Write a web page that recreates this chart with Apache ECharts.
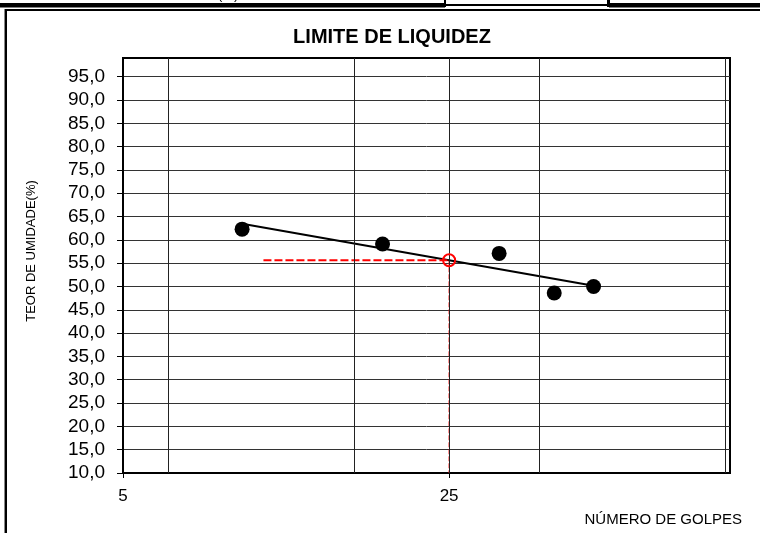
<!DOCTYPE html>
<html>
<head>
<meta charset="utf-8">
<script src="https://cdn.jsdelivr.net/npm/echarts@6/dist/echarts.min.js"></script>
<style>
  html, body { margin: 0; padding: 0; background: #fff; }
  #chart { width: 760px; height: 533px; }
</style>
</head>
<body>
<div id="chart"></div>
<script>
// Casagrande test results: blow count vs. moisture content
const blows = [9, 18, 32, 42, 51];
const moisture = [62.3, 59.1, 57.1, 48.6, 50.0];

// Axis ticks and labels
const yTicks = [10, 15, 20, 25, 30, 35, 40, 45, 50, 55, 60, 65, 70, 75, 80, 85, 90, 95];
const xGridLines = [6.25, 15.625, 25, 39.0625, 97.65625];

// Liquid limit reference: 25 blows, guide starts at 10 blows
const standardBlows = 25;
const guideStart = 10;

// Least-squares fit of moisture against ln(blows)
const lx = blows.map(Math.log);
const mx = lx.reduce((s, v) => s + v, 0) / lx.length;
const my = moisture.reduce((s, v) => s + v, 0) / moisture.length;
let sxy = 0, sxx = 0;
lx.forEach((v, i) => { sxy += (v - mx) * (moisture[i] - my); sxx += (v - mx) * (v - mx); });
const slope = sxy / sxx;
const intercept = my - slope * mx;
const fit = n => intercept + slope * Math.log(n);
const nMin = Math.min(...blows), nMax = Math.max(...blows);
const liquidLimit = fit(standardBlows);

const FONT = '"Liberation Sans", Arial, sans-serif';

const chart = echarts.init(document.getElementById('chart'), null, { renderer: 'canvas' });

chart.setOption({
  animation: false,
  backgroundColor: '#fff',
  title: {
    text: 'LIMITE DE LIQUIDEZ',
    left: 387,
    top: 22,
    textAlign: 'center',
    textStyle: { fontFamily: FONT, fontSize: 20, fontWeight: 'bold', color: '#000' }
  },
  grid: {
    left: 123, right: 30, top: 58, bottom: 60,
    show: true, borderColor: '#000', borderWidth: 2, backgroundColor: 'transparent'
  },
  xAxis: {
    type: 'log',
    logBase: 5,
    min: 5,
    max: 100,
    axisLine: { show: true, lineStyle: { color: '#000', width: 2 } },
    axisTick: { show: true, length: 5, lineStyle: { color: '#000', width: 1 } },
    axisLabel: {
      showMaxLabel: false,
      margin: 15,
      fontFamily: FONT, fontSize: 17, color: '#000'
    },
    splitLine: { show: false },
    minorTick: { show: false }
  },
  yAxis: {
    type: 'value',
    min: 10,
    max: 99,
    axisLine: { show: true, lineStyle: { color: '#000', width: 2 } },
    axisTick: { show: true, customValues: yTicks, length: 6, lineStyle: { color: '#000', width: 1 } },
    axisLabel: {
      customValues: yTicks,
      margin: 18,
      fontFamily: FONT, fontSize: 19, color: '#000',
      formatter: v => v.toFixed(1).replace('.', ',')
    },
    splitLine: { show: true, lineStyle: { color: '#333', width: 1 } }
  },
  series: [
    {
      // vertical grid lines
      type: 'line',
      data: [],
      z: 1,
      silent: true,
      markLine: {
        silent: true,
        symbol: ['none', 'none'],
        label: { show: false },
        lineStyle: { color: '#222', width: 1, type: 'solid' },
        data: xGridLines.map(v => ({ xAxis: v }))
      }
    },
    {
      // fitted flow curve
      type: 'line',
      data: [[nMin, fit(nMin)], [nMax, fit(nMax)]],
      symbol: 'none',
      lineStyle: { color: '#000', width: 2 },
      z: 3,
      silent: true
    },
    {
      // horizontal guide to the liquid limit
      type: 'line',
      data: [[guideStart, liquidLimit], [standardBlows, liquidLimit]],
      symbol: 'none',
      lineStyle: { color: '#ff0000', width: 2, type: [8, 3] },
      z: 4,
      silent: true
    },
    {
      // vertical guide at 25 blows
      type: 'line',
      data: [[standardBlows, liquidLimit], [standardBlows, 10]],
      symbol: 'none',
      lineStyle: { color: '#ff0000', width: 1, type: [5, 2] },
      z: 4,
      silent: true
    },
    {
      // test points
      type: 'scatter',
      data: blows.map((b, i) => [b, moisture[i]]),
      symbol: 'circle',
      symbolSize: 15,
      itemStyle: { color: '#000', opacity: 1 },
      z: 5,
      silent: true
    },
    {
      // liquid limit point
      type: 'scatter',
      data: [[standardBlows, liquidLimit]],
      symbol: 'circle',
      symbolSize: 12,
      itemStyle: { color: 'rgba(0,0,0,0)', borderColor: '#ff0000', borderWidth: 2, opacity: 1 },
      z: 6,
      silent: true
    }
  ],
  graphic: [
    // page frame pieces
    { type: 'rect', shape: { x: 0, y: 3, width: 445, height: 4.5 }, style: { fill: '#000' }, z: 10 },
    { type: 'rect', shape: { x: 445, y: 4, width: 163, height: 2 }, style: { fill: '#000' }, z: 10 },
    { type: 'rect', shape: { x: 609, y: 3, width: 151, height: 4.5 }, style: { fill: '#000' }, z: 10 },
    { type: 'rect', shape: { x: 444, y: 0, width: 2, height: 7 }, style: { fill: '#000' }, z: 10 },
    { type: 'rect', shape: { x: 607, y: 0, width: 3, height: 7 }, style: { fill: '#000' }, z: 10 },
    { type: 'rect', shape: { x: 4, y: 9, width: 756, height: 2 }, style: { fill: '#000' }, z: 10 },
    { type: 'rect', shape: { x: 4, y: 9, width: 1, height: 524 }, style: { fill: '#888' }, z: 10 },
    { type: 'rect', shape: { x: 5, y: 9, width: 2, height: 524 }, style: { fill: '#000' }, z: 10 },
    {
      type: 'text', x: 218, y: -11, z: 9,
      style: { text: '(%)', fontFamily: FONT, fontSize: 13, fill: '#000', align: 'left', verticalAlign: 'top' }
    },
    // axis titles
    {
      type: 'text', x: 31, y: 251, rotation: Math.PI / 2, z: 10,
      style: { text: 'TEOR DE UMIDADE(%)', fontFamily: FONT, fontSize: 13, fill: '#000', align: 'center', verticalAlign: 'middle' }
    },
    {
      type: 'text', x: 742, y: 520, z: 10,
      style: { text: 'NÚMERO DE GOLPES', fontFamily: FONT, fontSize: 15, fill: '#000', align: 'right', verticalAlign: 'middle' }
    }
  ]
});
</script>
</body>
</html>
